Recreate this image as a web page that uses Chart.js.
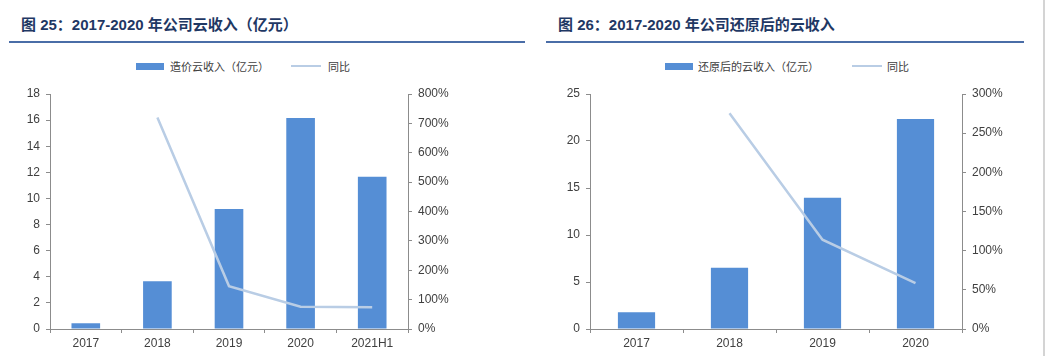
<!DOCTYPE html>
<html>
<head>
<meta charset="utf-8">
<script src="https://cdn.jsdelivr.net/npm/chart.js@4"></script>
<style>
  html, body { margin:0; padding:0; background:#fff; }
  body { width:1048px; height:356px; position:relative; overflow:hidden; }
  .title { position:absolute; top:14px; font-family:"Liberation Sans","Noto Sans CJK SC",sans-serif; font-weight:bold; font-size:15px; color:#1f3864; white-space:nowrap; line-height:22px; }
  .rule { position:absolute; top:41px; height:2px; background:#4a6da7; }
  .edge { position:absolute; left:1043px; top:0; width:2px; height:356px; background:#d4d4d4; }
  .box { position:absolute; top:63px; width:28px; height:7px; background:#558ed5; }
  .lline { position:absolute; top:65px; width:30px; height:2px; background:#b9cde5; }
  .ltxt { position:absolute; top:58px; font-family:"Noto Sans CJK SC",sans-serif; font-size:11px; line-height:16px; color:#404040; white-space:nowrap; }
  .wrap { position:absolute; top:80px; height:276px; }
</style>
</head>
<body>
<div class="title" style="left:21px">图 25：2017-2020 年公司云收入（亿元）</div>
<div class="rule" style="left:9px;width:516px"></div>
<div class="title" style="left:558px">图 26：2017-2020 年公司还原后的云收入</div>
<div class="rule" style="left:546px;width:478px"></div>
<div class="edge"></div>

<div class="box" style="left:136px"></div>
<div class="ltxt" style="left:170px">造价云收入（亿元）</div>
<div class="lline" style="left:291px"></div>
<div class="ltxt" style="left:328px">同比</div>

<div class="box" style="left:665px"></div>
<div class="ltxt" style="left:698px">还原后的云收入（亿元）</div>
<div class="lline" style="left:852px"></div>
<div class="ltxt" style="left:887px">同比</div>

<div class="wrap" style="left:0;width:530px"><canvas id="c1"></canvas></div>
<div class="wrap" style="left:530px;width:500px"><canvas id="c2"></canvas></div>

<script>
// Chart 1 data
const categories1 = ['2017', '2018', '2019', '2020', '2021H1'];
const revenue1 = [0.44, 3.65, 9.19, 16.16, 11.66];
const yoy1 = [null, 720, 146, 76, 74];
const leftTicks1 = { min: 0, max: 18, step: 2 };
const rightTicks1 = { min: 0, max: 800, step: 100 };

// Chart 2 data
const categories2 = ['2017', '2018', '2019', '2020'];
const revenue2 = [1.77, 6.52, 13.97, 22.34];
const yoy2 = [null, 275.5, 114, 58.7];
const leftTicks2 = { min: 0, max: 25, step: 5 };
const rightTicks2 = { min: 0, max: 300, step: 50 };

const BAR = '#558ed5';
const LINE = '#b9cde5';
const AXIS = '#8c8c8c';
const TXT = '#404040';
const FONT = { family: '"Liberation Sans", Arial, sans-serif', size: 12 };

function makeChart(id, cats, bars, line, lt, rt, leftW, rightW) {
  return new Chart(document.getElementById(id), {
    data: {
      labels: cats,
      datasets: [
        { type: 'line', data: line, yAxisID: 'y1', borderColor: LINE, borderWidth: 2.5,
          pointRadius: 0, tension: 0, order: 0, spanGaps: false },
        { type: 'bar', data: bars, yAxisID: 'y', backgroundColor: BAR,
          barPercentage: 0.4, categoryPercentage: 1, order: 1 }
      ]
    },
    options: {
      responsive: true, maintainAspectRatio: false, animation: false,
      layout: { padding: { top: 14, left: 0, right: 0, bottom: 0 } },
      plugins: { legend: { display: false }, tooltip: { enabled: false } },
      scales: {
        x: {
          offset: true,
          grid: { offset: true, drawOnChartArea: false, drawTicks: true, tickLength: 4, color: AXIS },
          border: { color: AXIS, width: 1 },
          ticks: { color: TXT, font: FONT, padding: 3, maxRotation: 0 },
          afterFit: s => { s.height = 27; }
        },
        y: {
          position: 'left', min: lt.min, max: lt.max,
          grid: { drawOnChartArea: false, tickLength: 4, color: AXIS },
          border: { color: AXIS, width: 1 },
          ticks: { stepSize: lt.step, color: TXT, font: FONT, padding: 6 },
          afterFit: s => { s.width = leftW; }
        },
        y1: {
          position: 'right', min: rt.min, max: rt.max,
          grid: { drawOnChartArea: false, tickLength: 4, color: AXIS },
          border: { color: AXIS, width: 1 },
          ticks: { stepSize: rt.step, color: TXT, font: FONT, padding: 6, callback: v => v + '%' },
          afterFit: s => { s.width = rightW; }
        }
      }
    }
  });
}

makeChart('c1', categories1, revenue1, yoy1, leftTicks1, rightTicks1, 50, 122);
makeChart('c2', categories2, revenue2, yoy2, leftTicks2, rightTicks2, 60, 68);
</script>
</body>
</html>
